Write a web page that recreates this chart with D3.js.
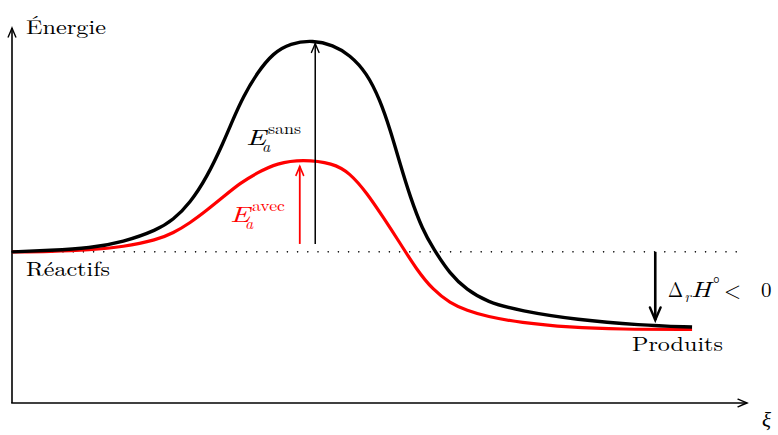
<!DOCTYPE html>
<html>
<head>
<meta charset="utf-8">
<script src="https://cdn.jsdelivr.net/npm/d3@7"></script>
<style>
  body { margin: 0; background: #fff; }
  text { font-family: "Latin Modern Roman", "CMU Serif", "Liberation Serif", serif; }
</style>
</head>
<body>
<div id="chart"></div>
<script>
// Energy profile: reaction without / with catalyst

// curve points [xi, energy] in arbitrary units (0..100)
const sansPoints = [
  [0, 40.2], [5.2, 40.6], [10.6, 41.2], [15.1, 42.8], [19.7, 46.0], [21.9, 48.7],
  [24.2, 53.2], [26.5, 60.1], [28.7, 69.2], [30.0, 75.3], [31.4, 81.4], [33.3, 87.8],
  [35.5, 93.1], [37.8, 95.7], [40.9, 96.5], [43.6, 95.2], [45.9, 92.6], [48.2, 87.8],
  [50.0, 80.6], [51.4, 72.6], [52.7, 63.8], [54.1, 54.8], [55.8, 46.0], [57.2, 41.2],
  [59.5, 34.3], [61.8, 30.1], [64.5, 26.9], [69.0, 24.5], [76.8, 22.1],
  [85.3, 20.7], [92.4, 20.2]
];
const avecPoints = [
  [0, 40.2], [5.2, 40.3], [10.6, 40.7], [15.1, 41.5], [19.7, 43.4], [21.9, 45.2],
  [24.2, 47.9], [26.5, 51.3], [28.7, 54.8], [31.0, 58.5], [33.3, 61.2], [36.0, 63.8],
  [39.5, 64.8], [43.6, 63.8], [45.9, 61.2], [48.2, 55.9], [50.4, 49.5], [52.7, 42.6],
  [55.0, 35.4], [57.2, 30.1], [59.5, 26.6], [61.8, 24.6], [64.5, 23.0], [69.0, 21.4],
  [75.8, 20.1], [82.6, 19.6], [92.4, 19.6]
];
const reactifsLevel = 40.2;
const dottedEnd = 99.6;
// arrows: xi, from, to
const eaSans = [41.2, 42.3, 95.9];
const eaAvec = [39.1, 42.3, 63.2];
const deltaH = [87.4, 40.2, 21.8];

const width = 778, height = 435;
const svg = d3.select('#chart').append('svg')
  .attr('width', width).attr('height', height);

const x = d3.scaleLinear().domain([0, 100]).range([12, 748]);
const y = d3.scaleLinear().domain([0, 100]).range([403, 27]);

// arrow heads (tikz-like curved barbs)
const defs = svg.append('defs');
function marker(id, color, s, sw) {
  defs.append('marker')
    .attr('id', id)
    .attr('markerUnits', 'userSpaceOnUse')
    .attr('viewBox', '-12 -6 14 12')
    .attr('markerWidth', 14 * s).attr('markerHeight', 12 * s)
    .attr('refX', 0).attr('refY', 0)
    .attr('orient', 'auto')
    .append('path')
    .attr('d', 'M-9,-3.8 Q-3,-1.2 0,0 Q-3,1.2 -9,3.8')
    .attr('fill', 'none')
    .attr('stroke', color)
    .attr('stroke-width', sw / s)
    .attr('stroke-linecap', 'round');
}
marker('arrBlack', '#000', 1, 1.4);
marker('arrRed', '#f00', 1, 1.6);
marker('arrBig', '#000', 1.4, 2.4);

// axes
svg.append('line')
  .attr('x1', x(0)).attr('y1', y(0)).attr('x2', x(0)).attr('y2', y(100) + 1)
  .attr('stroke', '#000').attr('stroke-width', 1.6)
  .attr('marker-end', 'url(#arrBlack)');
svg.append('line')
  .attr('x1', x(0) - 0.8).attr('y1', y(0)).attr('x2', x(100) - 1).attr('y2', y(0))
  .attr('stroke', '#000').attr('stroke-width', 1.6)
  .attr('marker-end', 'url(#arrBlack)');

// dotted reactant level
svg.append('line')
  .attr('x1', x(0)).attr('x2', x(dottedEnd))
  .attr('y1', y(reactifsLevel)).attr('y2', y(reactifsLevel))
  .attr('stroke', '#000').attr('stroke-width', 1.6)
  .attr('stroke-dasharray', '0,10.2')
  .attr('stroke-linecap', 'round');

// curves (B-spline through the read points to keep them smooth)
const line = d3.line()
  .x(d => x(d[0])).y(d => y(d[1]))
  .curve(d3.curveBasis);
svg.append('path').datum(avecPoints)
  .attr('d', line).attr('fill', 'none')
  .attr('stroke', '#f00').attr('stroke-width', 3.2);
svg.append('path').datum(sansPoints)
  .attr('d', line).attr('fill', 'none')
  .attr('stroke', '#000').attr('stroke-width', 3.4);

// arrows
function arrow(a, color, sw, mk) {
  svg.append('line')
    .attr('x1', x(a[0])).attr('x2', x(a[0]))
    .attr('y1', y(a[1])).attr('y2', y(a[2]) + (a[2] > a[1] ? 1 : -1))
    .attr('stroke', color).attr('stroke-width', sw)
    .attr('marker-end', `url(#${mk})`);
}
arrow(eaSans, '#000', 1.5, 'arrBlack');
arrow(eaAvec, '#f00', 1.8, 'arrRed');
arrow(deltaH, '#000', 2.6, 'arrBig');

// labels
function label(txt, px, py, opts = {}) {
  const t = svg.append('text')
    .attr('x', px).attr('y', py)
    .attr('font-size', opts.size || 20)
    .attr('fill', opts.color || '#000')
    .attr('font-style', opts.italic ? 'italic' : 'normal')
    .text(txt);
  if (opts.len) t.attr('textLength', opts.len).attr('lengthAdjust', 'spacingAndGlyphs');
  return t;
}
label('Énergie', 26, 34, {len: 80});
label('Réactifs', 26, 276, {len: 84});
label('Produits', 632, 351, {len: 91});
label('ξ', 762, 427, {italic: true, size: 21});

// E_a^sans
label('E', 246, 145, {italic: true, size: 22, len: 20});
label('a', 262, 152, {italic: true, size: 16});
label('sans', 268, 134, {size: 16, len: 33});
// E_a^avec
label('E', 230, 222, {italic: true, size: 22, len: 20, color: '#f00'});
label('a', 245, 229, {italic: true, size: 16, color: '#f00'});
label('avec', 252, 211, {size: 16, len: 33, color: '#f00'});

// Delta_r H° < 0
label('Δ', 668, 297, {size: 21, len: 15});
label('r', 684.5, 302, {italic: true, size: 15});
label('H', 691, 297, {italic: true, size: 21, len: 20});
label('°', 713, 290, {size: 18});
label('<', 724, 298, {size: 23, len: 17});
label('0', 761, 297, {size: 21});
</script>
</body>
</html>
